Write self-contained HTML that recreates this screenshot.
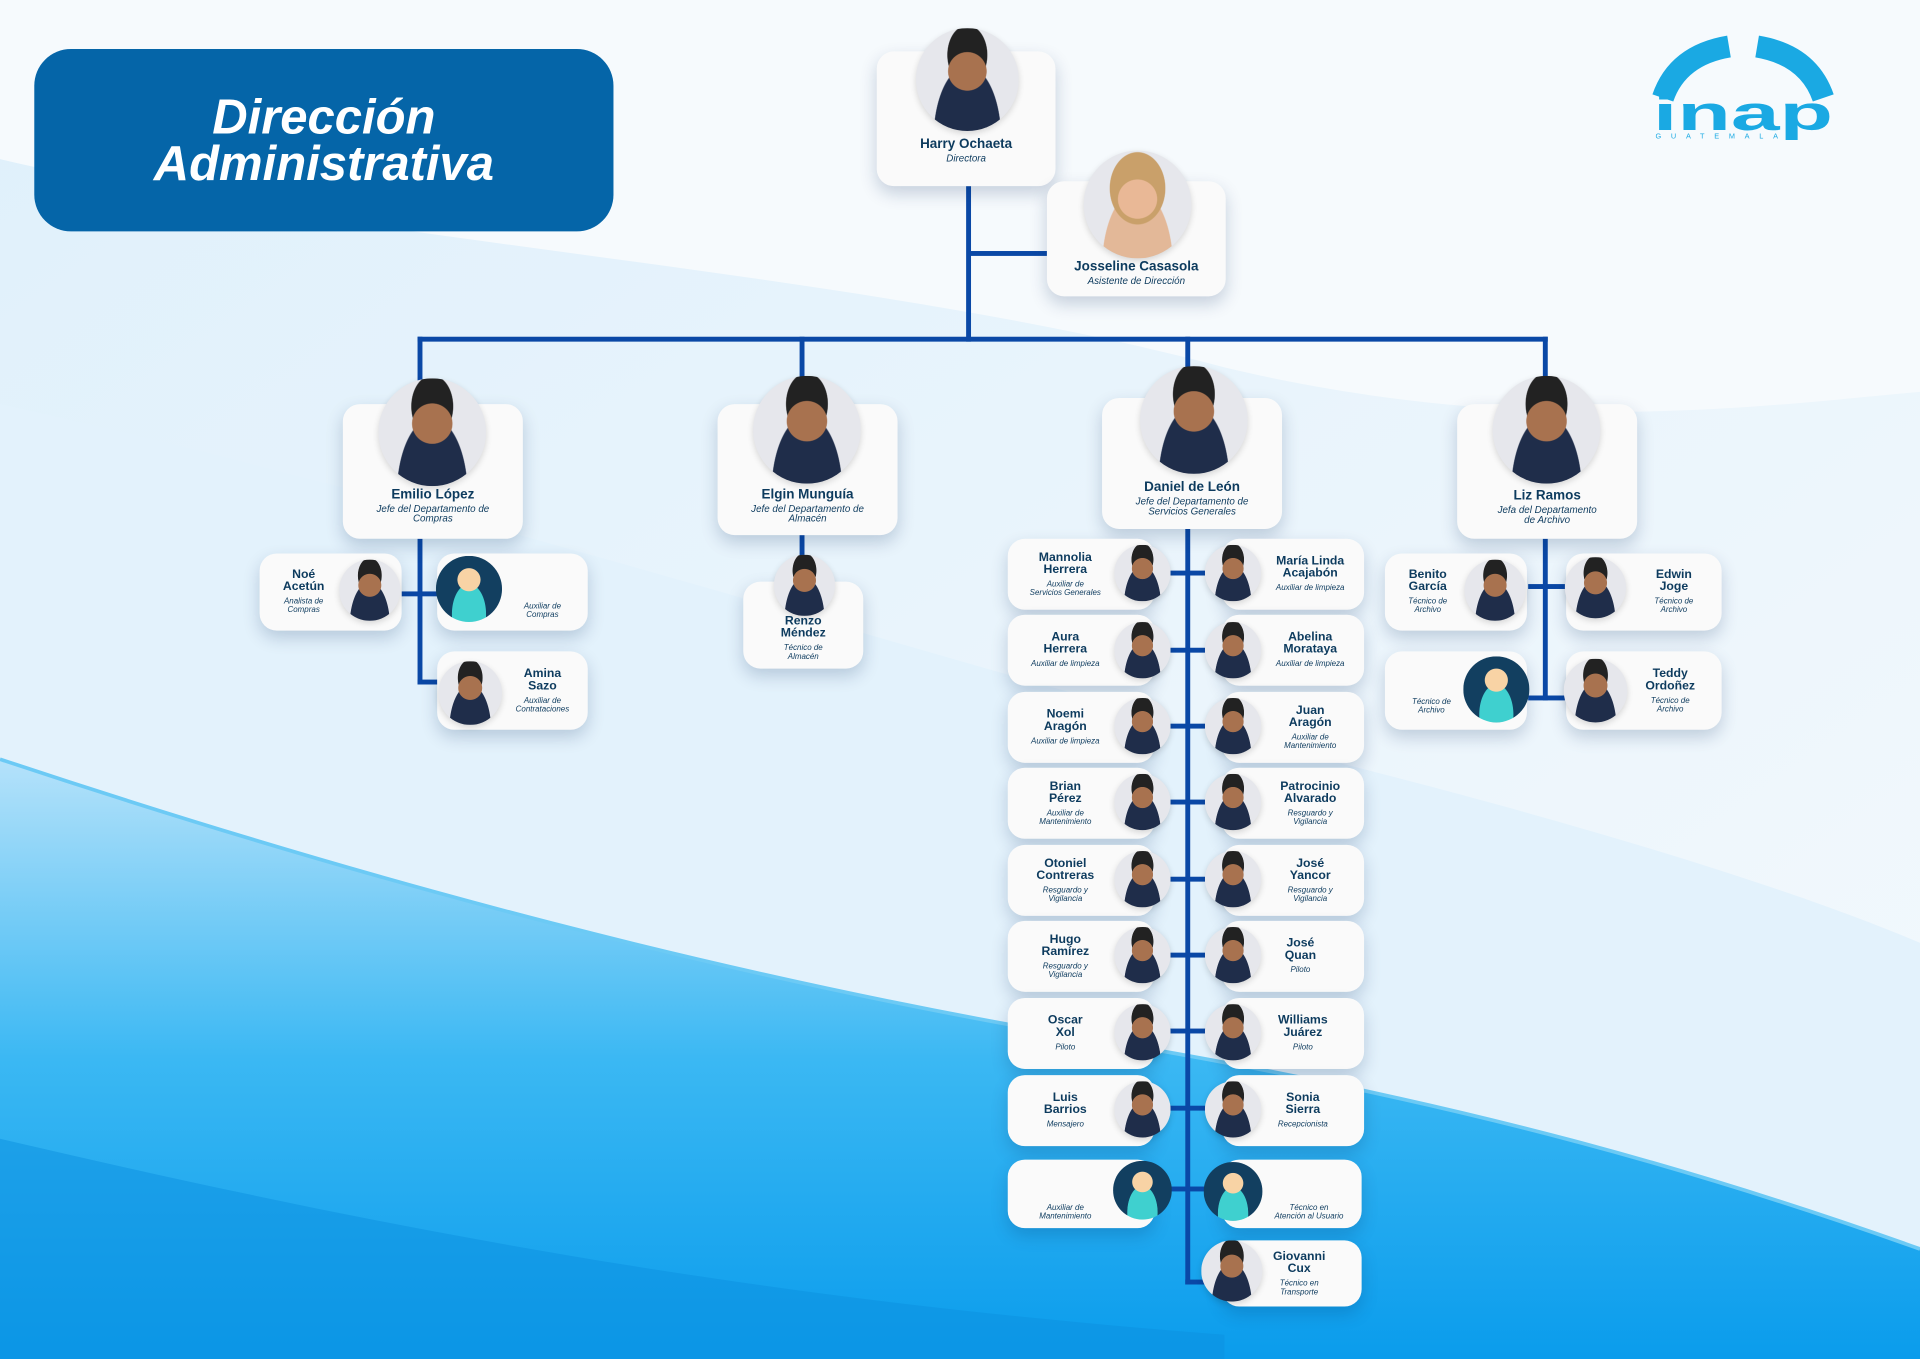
<!DOCTYPE html>
<html><head><meta charset="utf-8">
<style>
html,body{margin:0;padding:0;width:1920px;height:1359px;overflow:hidden;background:#fff}
#s{position:absolute;left:0;top:0;width:1568px;height:1110px;transform:scale(1.22449);transform-origin:0 0;font-family:"Liberation Sans",sans-serif}
.c{position:absolute;background:#fafafa;border-radius:14px;box-shadow:0 6px 14px rgba(0,40,90,.2)}
.p{position:absolute;border-radius:50%;background:radial-gradient(circle at 50% 42%,#a8724f 0 24%,transparent 25%),radial-gradient(ellipse at 50% 26%,#222 0 27%,transparent 28%),radial-gradient(ellipse at 50% 108%,#1f2d4a 0 46%,transparent 47%),#e6e7ec;box-shadow:0 2px 5px rgba(0,0,0,.15)}
.a{position:absolute;border-radius:50%;background:radial-gradient(circle at 50% 36%,#f8d3a5 0 21%,transparent 22%),radial-gradient(ellipse at 50% 88%,#3fd0cf 0 36%,transparent 37%),#123f60}
.tx{position:absolute;display:flex;flex-direction:column;align-items:center;justify-content:center;text-align:center;color:#0d3b5e}
.n{font-weight:bold;font-size:10px;line-height:10px}
.t{font-style:italic;font-size:6.5px;line-height:7px;margin-top:3px}
.L{position:absolute;background:#0a48a6}
.big .n{font-size:11px;line-height:12px}
.big .t{font-size:8px;line-height:8px;margin-top:2px}
</style></head><body><div id="s">
<svg width="1568" height="1110" style="position:absolute;left:0;top:0">
<defs>
<linearGradient id="g1" x1="0" y1="0" x2="0" y2="1"><stop offset="0" stop-color="#b5e2fa"/><stop offset=".5" stop-color="#3bb8f3"/><stop offset="1" stop-color="#0a9cec"/></linearGradient>
<linearGradient id="g0" x1="0" y1="0" x2="1" y2="1"><stop offset="0" stop-color="#dff0fb"/><stop offset="1" stop-color="#f4f9fd"/></linearGradient>
</defs>
<rect width="1568" height="1110" fill="url(#g0)"/>
<path d="M0 130 C300 200 700 220 1000 300 C1250 360 1450 330 1568 320 L1568 0 L0 0Z" fill="#f6fafd"/>
<path d="M0 330 C400 420 700 520 1000 600 C1250 660 1450 720 1568 770 L1568 1110 L0 1110Z" fill="#e3f2fc"/>
<path d="M0 620 C300 720 600 800 900 850 C1200 900 1400 960 1568 1020 L1568 1110 L0 1110Z" fill="url(#g1)"/>
<path d="M0 620 C300 720 600 800 900 850 C1200 900 1400 960 1568 1020" stroke="#6ccaf5" stroke-width="3" fill="none"/>
<path d="M0 930 C300 1000 600 1060 1000 1090 L1000 1110 L0 1110Z" fill="#0b8fe0" opacity=".5"/>
<path d="M1358 80 Q1370 45 1412 38" stroke="#1aa9e3" stroke-width="18" fill="none"/>
<path d="M1489 80 Q1477 45 1435 38" stroke="#1aa9e3" stroke-width="18" fill="none"/>
<text x="1350" y="106" font-family="Liberation Sans" font-weight="bold" font-size="40" fill="#1aa9e3" textLength="147" lengthAdjust="spacingAndGlyphs">inap</text>
<text x="1352" y="113" font-family="Liberation Sans" font-size="6" fill="#1aa9e3" textLength="100" lengthAdjust="spacing">GUATEMALA</text>
</svg>
<div style="position:absolute;left:28px;top:40px;width:473px;height:149px;border-radius:30px;background:#0565a8;color:#fff;font-weight:bold;font-style:italic;font-size:40px;line-height:38px;text-align:center;display:flex;align-items:center;justify-content:center">Dirección<br>Administrativa</div>

<!-- lines -->
<div class="L" style="left:789px;top:152px;width:4px;height:127px"></div>
<div class="L" style="left:791px;top:205px;width:64px;height:4px"></div>
<div class="L" style="left:341px;top:275px;width:923px;height:4px"></div>
<div class="L" style="left:341px;top:275px;width:4px;height:40px"></div>
<div class="L" style="left:653px;top:275px;width:4px;height:40px"></div>
<div class="L" style="left:968px;top:275px;width:4px;height:30px"></div>
<div class="L" style="left:1260px;top:275px;width:4px;height:40px"></div>
<div class="L" style="left:341px;top:440px;width:4px;height:119px"></div>
<div class="L" style="left:328px;top:483px;width:30px;height:4px"></div>
<div class="L" style="left:341px;top:555px;width:17px;height:4px"></div>
<div class="L" style="left:653px;top:437px;width:4px;height:18px"></div>
<div class="L" style="left:968px;top:432px;width:4px;height:617px"></div>
<div class="L" style="left:968px;top:1045px;width:20px;height:4px"></div>
<div class="L" style="left:1260px;top:440px;width:4px;height:132px"></div>
<div class="L" style="left:1248px;top:477px;width:30px;height:4px"></div>
<div class="L" style="left:1248px;top:568px;width:30px;height:4px"></div>

<!-- top -->
<div class="c" style="left:716px;top:42px;width:146px;height:110px"></div>
<div class="p" style="left:748px;top:23px;width:84px;height:84px"></div>
<div class="tx big" style="left:716px;top:112px;width:146px"><div class="n">Harry Ochaeta</div><div class="t">Directora</div></div>
<div class="c" style="left:855px;top:148px;width:146px;height:94px"></div>
<div class="p" style="left:885px;top:123px;width:88px;height:88px;background:radial-gradient(circle at 50% 45%,#e9b896 0 24%,transparent 25%),radial-gradient(ellipse at 50% 35%,#c9a06a 0 36%,transparent 37%),radial-gradient(ellipse at 50% 108%,#e3b898 0 46%,transparent 47%),#e6e7ec"></div>
<div class="tx big" style="left:855px;top:212px;width:146px"><div class="n">Josseline Casasola</div><div class="t">Asistente de Dirección</div></div>

<!-- heads -->
<div class="c" style="left:280px;top:330px;width:147px;height:110px"></div>
<div class="p" style="left:309px;top:309px;width:88px;height:88px"></div>
<div class="tx big" style="left:280px;top:398px;width:147px"><div class="n">Emilio López</div><div class="t">Jefe del Departamento de<br>Compras</div></div>
<div class="c" style="left:586px;top:330px;width:147px;height:107px"></div>
<div class="p" style="left:615px;top:307px;width:88px;height:88px"></div>
<div class="tx big" style="left:586px;top:398px;width:147px"><div class="n">Elgin Munguía</div><div class="t">Jefe del Departamento de<br>Almacén</div></div>
<div class="c" style="left:900px;top:325px;width:147px;height:107px"></div>
<div class="p" style="left:931px;top:299px;width:88px;height:88px"></div>
<div class="tx big" style="left:900px;top:392px;width:147px"><div class="n">Daniel de León</div><div class="t">Jefe del Departamento de<br>Servicios Generales</div></div>
<div class="c" style="left:1190px;top:330px;width:147px;height:110px"></div>
<div class="p" style="left:1219px;top:307px;width:88px;height:88px"></div>
<div class="tx big" style="left:1190px;top:399px;width:147px"><div class="n">Liz Ramos</div><div class="t">Jefa del Departamento<br>de Archivo</div></div>

<!-- Emilio subtree -->
<div class="c" style="left:212px;top:452px;width:116px;height:63px"></div>
<div class="p" style="left:277px;top:457px;width:50px;height:50px"></div>
<div class="tx" style="left:212px;top:452px;width:72px;height:63px"><div class="n">Noé<br>Acetún</div><div class="t">Analista de<br>Compras</div></div>
<div class="c" style="left:357px;top:452px;width:123px;height:63px"></div>
<div class="a" style="left:356px;top:454px;width:54px;height:54px"></div>
<div class="tx" style="left:410px;top:452px;width:66px;height:90px"><div class="t">Auxiliar de<br>Compras</div></div>
<div class="c" style="left:357px;top:532px;width:123px;height:64px"></div>
<div class="p" style="left:358px;top:540px;width:52px;height:52px"></div>
<div class="tx" style="left:410px;top:532px;width:66px;height:64px"><div class="n">Amina<br>Sazo</div><div class="t">Auxiliar de<br>Contrataciones</div></div>

<!-- Renzo -->
<div class="c" style="left:607px;top:475px;width:98px;height:71px"></div>
<div class="p" style="left:632px;top:453px;width:50px;height:50px"></div>
<div class="tx" style="left:607px;top:503px;width:98px"><div class="n">Renzo<br>Méndez</div><div class="t">Técnico de<br>Almacén</div></div>

<!-- Liz subtree -->
<div class="c" style="left:1131px;top:452px;width:116px;height:63px"></div>
<div class="p" style="left:1196px;top:457px;width:50px;height:50px"></div>
<div class="tx" style="left:1131px;top:452px;width:70px;height:63px"><div class="n">Benito<br>García</div><div class="t">Técnico de<br>Archivo</div></div>
<div class="c" style="left:1279px;top:452px;width:127px;height:63px"></div>
<div class="p" style="left:1278px;top:455px;width:50px;height:50px"></div>
<div class="tx" style="left:1330px;top:452px;width:74px;height:63px"><div class="n">Edwin<br>Joge</div><div class="t">Técnico de<br>Archivo</div></div>
<div class="c" style="left:1131px;top:532px;width:116px;height:64px"></div>
<div class="a" style="left:1195px;top:536px;width:54px;height:54px"></div>
<div class="tx" style="left:1131px;top:532px;width:76px;height:86px"><div class="t">Técnico de<br>Archivo</div></div>
<div class="c" style="left:1279px;top:532px;width:127px;height:64px"></div>
<div class="p" style="left:1277px;top:538px;width:52px;height:52px"></div>
<div class="tx" style="left:1328px;top:532px;width:72px;height:64px"><div class="n">Teddy<br>Ordoñez</div><div class="t">Técnico de<br>Archivo</div></div>

<!-- row1 468 -->
<div class="L" style="left:952px;top:466px;width:34px;height:4px"></div>
<div class="c" style="left:823px;top:440px;width:120px;height:58px"></div>
<div class="p" style="left:910px;top:445px;width:46px;height:46px"></div>
<div class="tx" style="left:823px;top:440px;width:94px;height:58px"><div class="n">Mannolia<br>Herrera</div><div class="t">Auxiliar de<br>Servicios Generales</div></div>
<div class="c" style="left:998px;top:440px;width:116px;height:58px"></div>
<div class="p" style="left:984px;top:445px;width:46px;height:46px"></div>
<div class="tx" style="left:1028px;top:440px;width:84px;height:58px"><div class="n">María Linda<br>Acajabón</div><div class="t">Auxiliar de limpieza</div></div>
<!-- row2 531 -->
<div class="L" style="left:952px;top:529px;width:34px;height:4px"></div>
<div class="c" style="left:823px;top:502px;width:120px;height:58px"></div>
<div class="p" style="left:910px;top:508px;width:46px;height:46px"></div>
<div class="tx" style="left:823px;top:502px;width:94px;height:58px"><div class="n">Aura<br>Herrera</div><div class="t">Auxiliar de limpieza</div></div>
<div class="c" style="left:998px;top:502px;width:116px;height:58px"></div>
<div class="p" style="left:984px;top:508px;width:46px;height:46px"></div>
<div class="tx" style="left:1028px;top:502px;width:84px;height:58px"><div class="n">Abelina<br>Morataya</div><div class="t">Auxiliar de limpieza</div></div>
<!-- row3 593 -->
<div class="L" style="left:952px;top:591px;width:34px;height:4px"></div>
<div class="c" style="left:823px;top:565px;width:120px;height:58px"></div>
<div class="p" style="left:910px;top:570px;width:46px;height:46px"></div>
<div class="tx" style="left:823px;top:565px;width:94px;height:58px"><div class="n">Noemi<br>Aragón</div><div class="t">Auxiliar de limpieza</div></div>
<div class="c" style="left:998px;top:565px;width:116px;height:58px"></div>
<div class="p" style="left:984px;top:570px;width:46px;height:46px"></div>
<div class="tx" style="left:1028px;top:565px;width:84px;height:58px"><div class="n">Juan<br>Aragón</div><div class="t">Auxiliar de<br>Mantenimiento</div></div>
<!-- row4 655 -->
<div class="L" style="left:952px;top:653px;width:34px;height:4px"></div>
<div class="c" style="left:823px;top:627px;width:120px;height:58px"></div>
<div class="p" style="left:910px;top:632px;width:46px;height:46px"></div>
<div class="tx" style="left:823px;top:627px;width:94px;height:58px"><div class="n">Brian<br>Pérez</div><div class="t">Auxiliar de<br>Mantenimiento</div></div>
<div class="c" style="left:998px;top:627px;width:116px;height:58px"></div>
<div class="p" style="left:984px;top:632px;width:46px;height:46px"></div>
<div class="tx" style="left:1028px;top:627px;width:84px;height:58px"><div class="n">Patrocinio<br>Alvarado</div><div class="t">Resguardo y<br>Vigilancia</div></div>
<!-- row5 718 -->
<div class="L" style="left:952px;top:716px;width:34px;height:4px"></div>
<div class="c" style="left:823px;top:690px;width:120px;height:58px"></div>
<div class="p" style="left:910px;top:695px;width:46px;height:46px"></div>
<div class="tx" style="left:823px;top:690px;width:94px;height:58px"><div class="n">Otoniel<br>Contreras</div><div class="t">Resguardo y<br>Vigilancia</div></div>
<div class="c" style="left:998px;top:690px;width:116px;height:58px"></div>
<div class="p" style="left:984px;top:695px;width:46px;height:46px"></div>
<div class="tx" style="left:1028px;top:690px;width:84px;height:58px"><div class="n">José<br>Yancor</div><div class="t">Resguardo y<br>Vigilancia</div></div>
<!-- row6 780 -->
<div class="L" style="left:952px;top:778px;width:34px;height:4px"></div>
<div class="c" style="left:823px;top:752px;width:120px;height:58px"></div>
<div class="p" style="left:910px;top:757px;width:46px;height:46px"></div>
<div class="tx" style="left:823px;top:752px;width:94px;height:58px"><div class="n">Hugo<br>Ramírez</div><div class="t">Resguardo y<br>Vigilancia</div></div>
<div class="c" style="left:998px;top:752px;width:116px;height:58px"></div>
<div class="p" style="left:984px;top:757px;width:46px;height:46px"></div>
<div class="tx" style="left:1020px;top:752px;width:84px;height:58px"><div class="n">José<br>Quan</div><div class="t">Piloto</div></div>
<!-- row7 842 -->
<div class="L" style="left:952px;top:840px;width:34px;height:4px"></div>
<div class="c" style="left:823px;top:815px;width:120px;height:58px"></div>
<div class="p" style="left:910px;top:820px;width:46px;height:46px"></div>
<div class="tx" style="left:823px;top:815px;width:94px;height:58px"><div class="n">Oscar<br>Xol</div><div class="t">Piloto</div></div>
<div class="c" style="left:998px;top:815px;width:116px;height:58px"></div>
<div class="p" style="left:984px;top:820px;width:46px;height:46px"></div>
<div class="tx" style="left:1022px;top:815px;width:84px;height:58px"><div class="n">Williams<br>Juárez</div><div class="t">Piloto</div></div>
<!-- row8 905 -->
<div class="L" style="left:952px;top:903px;width:34px;height:4px"></div>
<div class="c" style="left:823px;top:878px;width:120px;height:58px"></div>
<div class="p" style="left:910px;top:883px;width:46px;height:46px"></div>
<div class="tx" style="left:823px;top:878px;width:94px;height:58px"><div class="n">Luis<br>Barrios</div><div class="t">Mensajero</div></div>
<div class="c" style="left:998px;top:878px;width:116px;height:58px"></div>
<div class="p" style="left:984px;top:883px;width:46px;height:46px"></div>
<div class="tx" style="left:1022px;top:878px;width:84px;height:58px"><div class="n">Sonia<br>Sierra</div><div class="t">Recepcionista</div></div>
<!-- row9 971 -->
<div class="L" style="left:952px;top:969px;width:34px;height:4px"></div>
<div class="c" style="left:823px;top:947px;width:120px;height:56px"></div>
<div class="a" style="left:909px;top:948px;width:48px;height:48px"></div>
<div class="tx" style="left:823px;top:960px;width:94px;height:56px"><div class="t">Auxiliar de<br>Mantenimiento</div></div>
<div class="c" style="left:998px;top:947px;width:114px;height:56px"></div>
<div class="a" style="left:983px;top:949px;width:48px;height:48px"></div>
<div class="tx" style="left:1026px;top:960px;width:86px;height:56px"><div class="t">Técnico en<br>Atención al Usuario</div></div>
<!-- row10 -->
<div class="c" style="left:998px;top:1013px;width:114px;height:54px"></div>
<div class="p" style="left:981px;top:1013px;width:50px;height:50px"></div>
<div class="tx" style="left:1024px;top:1013px;width:74px;height:54px"><div class="n">Giovanni<br>Cux</div><div class="t">Técnico en<br>Transporte</div></div>
</div></body></html>
